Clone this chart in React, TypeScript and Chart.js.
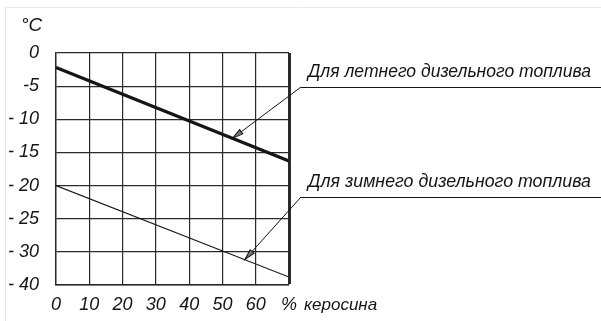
import React, { useEffect, useRef } from "react";
import { Chart, registerables } from "chart.js";

Chart.register(...registerables);

// % of kerosene (x) and pour/cloud point positions on the drawn axis (y)
// note: the last y slot is labelled "- 40" in the original figure
const kerosenePercent = [0, 70];
const summerFuel = [-2.2, -16.3];
const winterFuel = [-20, -33.8];

const xTickLabels = ["0", "10", "20", "30", "40", "50", "60", "%"];
const yTickLabels = ["0", "-5", "- 10", "- 15", "- 20", "- 25", "- 30", "- 40"];

const summerLabel = "Для летнего дизельного топлива";
const winterLabel = "Для зимнего дизельного топлива";
const xAxisWord = "керосина";
const yUnit = "°C";

const INK = "#151515";
const FONT = "'Liberation Sans', Arial, sans-serif";

function drawArrow(ctx: CanvasRenderingContext2D, fx: number, fy: number, tx: number, ty: number) {
  ctx.save();
  ctx.strokeStyle = INK;
  ctx.lineWidth = 1;
  ctx.beginPath();
  ctx.moveTo(fx, fy);
  ctx.lineTo(tx, ty);
  ctx.stroke();
  const ang = Math.atan2(ty - fy, tx - fx);
  const len = 11;
  const w = 2.6;
  ctx.translate(tx, ty);
  ctx.rotate(ang);
  ctx.beginPath();
  ctx.moveTo(0, 0);
  ctx.lineTo(-len, -w);
  ctx.lineTo(-len, w);
  ctx.closePath();
  ctx.fillStyle = "#777";
  ctx.fill();
  ctx.stroke();
  ctx.restore();
}

function fitText(ctx: CanvasRenderingContext2D, text: string, x: number, y: number, width: number) {
  const m = ctx.measureText(text).width;
  ctx.save();
  ctx.translate(x, y);
  ctx.scale(width / m, 1);
  ctx.fillText(text, 0, 0);
  ctx.restore();
}

const annotations = {
  id: "annotations",
  afterDraw(chart: any) {
    const { ctx, chartArea, scales } = chart;
    const xs = scales.x;
    const ys = scales.y;
    const W = chart.width;
    ctx.save();
    // faint photo frame
    ctx.strokeStyle = "#e8e8e8";
    ctx.lineWidth = 1;
    ctx.beginPath();
    ctx.moveTo(5.5, 321);
    ctx.lineTo(5.5, 7.5);
    ctx.lineTo(W, 7.5);
    ctx.stroke();

    ctx.fillStyle = INK;
    ctx.font = `italic 19px ${FONT}`;
    ctx.textBaseline = "middle";
    ctx.textAlign = "left";
    ctx.fillText(yUnit, 21, 26);

    ctx.font = `italic 17px ${FONT}`;
    ctx.fillText(xAxisWord, chartArea.right + 15, chartArea.bottom + 20);

    const lx = chartArea.right + 19;
    const lw = 283;
    const sumY = 87;
    const winY = 197;
    ctx.font = `italic 19px ${FONT}`;
    ctx.textBaseline = "alphabetic";
    fitText(ctx, summerLabel, lx, sumY - 10, lw);
    fitText(ctx, winterLabel, lx, winY - 10, lw);

    ctx.strokeStyle = INK;
    ctx.lineWidth = 1;
    ctx.beginPath();
    ctx.moveTo(chartArea.right + 12, sumY + 0.5);
    ctx.lineTo(W, sumY + 0.5);
    ctx.moveTo(chartArea.right + 12, winY + 0.5);
    ctx.lineTo(W, winY + 0.5);
    ctx.stroke();

    const sx = 53;
    const sv = summerFuel[0] + ((summerFuel[1] - summerFuel[0]) * sx) / 70;
    drawArrow(ctx, chartArea.right + 12, sumY, xs.getPixelForValue(sx), ys.getPixelForValue(sv));
    const wx = 56.7;
    const wv = winterFuel[0] + ((winterFuel[1] - winterFuel[0]) * wx) / 70;
    drawArrow(ctx, chartArea.right + 12, winY, xs.getPixelForValue(wx), ys.getPixelForValue(wv));
    ctx.restore();
  },
};

export default function App() {
  const ref = useRef<HTMLCanvasElement>(null);
  useEffect(() => {
    if (!ref.current) return;
    const chart = new Chart(ref.current, {
      type: "line",
      data: {
        datasets: [
          {
            label: summerLabel,
            data: kerosenePercent.map((x, i) => ({ x, y: summerFuel[i] })),
            borderColor: INK,
            borderWidth: 3.2,
            pointRadius: 0,
            tension: 0,
          },
          {
            label: winterLabel,
            data: kerosenePercent.map((x, i) => ({ x, y: winterFuel[i] })),
            borderColor: INK,
            borderWidth: 1.1,
            pointRadius: 0,
            tension: 0,
          },
        ],
      },
      options: {
        animation: false,
        responsive: false,
        layout: { padding: { top: 53, right: 312, left: 0, bottom: 0 } },
        plugins: { legend: { display: false }, tooltip: { enabled: false } },
        scales: {
          x: {
            type: "linear",
            min: 0,
            max: 70,
            afterFit: (s: any) => {
              s.height = 36;
            },
            ticks: {
              stepSize: 10,
              autoSkip: false,
              maxRotation: 0,
              padding: 9,
              color: INK,
              font: { family: FONT, style: "italic", size: 18 },
              callback: (v: any) => xTickLabels[Math.round(Number(v) / 10)] ?? "",
            },
            grid: {
              color: "#2a2a2a",
              lineWidth: (c: any) => (c.tick && c.tick.value === 70 ? 3 : 1.2),
              drawTicks: false,
            },
            border: { color: "#2a2a2a", width: 1.4 },
          },
          y: {
            type: "linear",
            min: -35,
            max: 0,
            afterFit: (s: any) => {
              s.width = 56;
            },
            ticks: {
              stepSize: 5,
              padding: 17,
              color: INK,
              font: { family: FONT, style: "italic", size: 18 },
              callback: (v: any) => yTickLabels[Math.round(-Number(v) / 5)] ?? "",
            },
            grid: { color: "#2a2a2a", lineWidth: 1.2, drawTicks: false },
            border: { color: "#2a2a2a", width: 1.4 },
          },
        },
      },
      plugins: [annotations],
    });
    return () => chart.destroy();
  }, []);
  return (
    <div style={{ position: "absolute", left: 0, top: 0, width: 601, height: 321, background: "#fff" }}>
      <canvas ref={ref} width={601} height={321} style={{ display: "block" }} />
    </div>
  );
}
